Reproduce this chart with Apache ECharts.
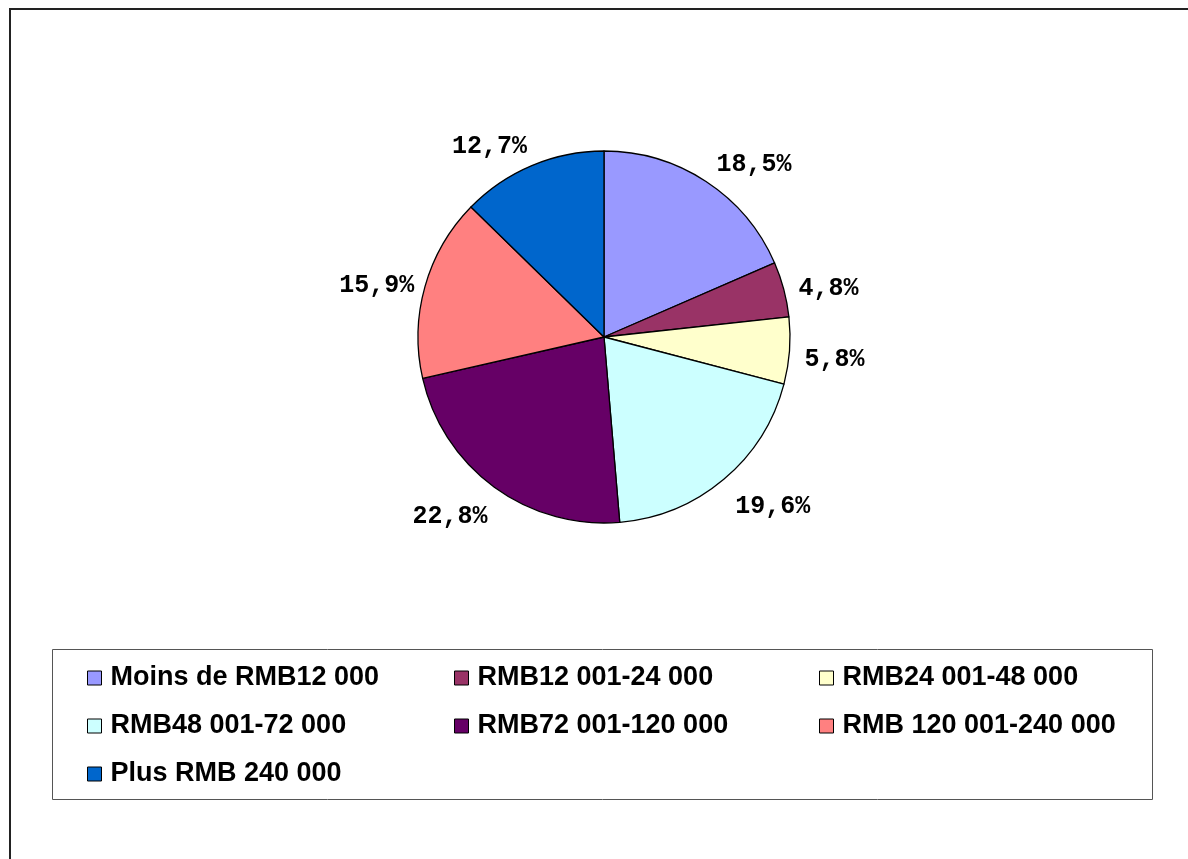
<!DOCTYPE html>
<html>
<head>
<meta charset="utf-8">
<script src="https://cdn.jsdelivr.net/npm/echarts@6/dist/echarts.min.js"></script>
<style>
html,body{margin:0;padding:0;background:#fff;}
#chart{width:1188px;height:859px;}
</style>
</head>
<body>
<div id="chart"></div>
<script>
var categories = [
  'Moins de RMB12 000',
  'RMB12 001-24 000',
  'RMB24 001-48 000',
  'RMB48 001-72 000',
  'RMB72 001-120 000',
  'RMB 120 001-240 000',
  'Plus RMB 240 000'
];
var values = [18.5, 4.8, 5.8, 19.6, 22.8, 15.9, 12.7];
var labels = ['18,5%', '4,8%', '5,8%', '19,6%', '22,8%', '15,9%', '12,7%'];
var colors = ['#9999FF', '#993366', '#FFFFCC', '#CCFFFF', '#660066', '#FF8080', '#0066CC'];

// legend columns (reading order is row by row, three per row)
var legendCols = [
  [categories[0], categories[3], categories[6]],
  [categories[1], categories[4]],
  [categories[2], categories[5]]
];
var colLefts = [87, 454, 819];

// mid angle of each slice (clockwise from 12 o'clock), from the values
var total = values.reduce(function (a, b) { return a + b; }, 0);
var midAngles = [];
(function () {
  var acc = 0;
  for (var i = 0; i < values.length; i++) {
    midAngles.push((acc + values[i] / 2) / total * 2 * Math.PI);
    acc += values[i];
  }
})();

var chart = echarts.init(document.getElementById('chart'), null, {renderer: 'canvas'});

var legends = legendCols.map(function (col, i) {
  return {
    data: col,
    orient: 'vertical',
    left: colLefts[i],
    top: 663,
    icon: 'rect',
    itemWidth: 14,
    itemHeight: 14,
    itemGap: 18,
    itemTextGap: 10,
    selectedMode: false,
    padding: 0,
    itemStyle: {borderColor: '#000', borderWidth: 1},
    textStyle: {
      fontFamily: 'Liberation Sans, Arial, sans-serif',
      fontWeight: 'bold',
      fontSize: 27,
      lineHeight: 30,
      padding: [0, 0, 0, 4],
      color: '#000'
    }
  };
});

var option = {
  animation: false,
  backgroundColor: '#ffffff',
  color: colors,
  legend: legends,
  graphic: [
    {type: 'rect', shape: {x: 10, y: 9, width: 1400, height: 1000},
     style: {fill: 'none', stroke: '#222', lineWidth: 2}, silent: true, z: 0},
    {type: 'rect', shape: {x: 52.5, y: 649.5, width: 1100, height: 150},
     style: {fill: 'none', stroke: '#555', lineWidth: 1}, silent: true, z: 0}
  ],
  series: [{
    type: 'pie',
    center: [604, 337],
    radius: [0, 186],
    startAngle: 90,
    clockwise: true,
    avoidLabelOverlap: false,
    itemStyle: {borderColor: '#000', borderWidth: 1.3},
    label: {
      show: true,
      position: 'outside',
      formatter: function (p) { return labels[p.dataIndex]; },
      fontFamily: 'Liberation Mono, monospace',
      fontWeight: 'bold',
      fontSize: 25,
      color: '#000'
    },
    labelLine: {show: false, length: 10, length2: 0},
    labelLayout: function (params) {
      var a = midAngles[params.dataIndex];
      return {
        dx: Math.sin(a) < 0 ? 4 : 0,
        dy: 6.5 - 18 * Math.cos(a)
      };
    },
    emphasis: {disabled: true},
    data: categories.map(function (c, i) { return {name: c, value: values[i]}; })
  }]
};
chart.setOption(option);
</script>
</body>
</html>
